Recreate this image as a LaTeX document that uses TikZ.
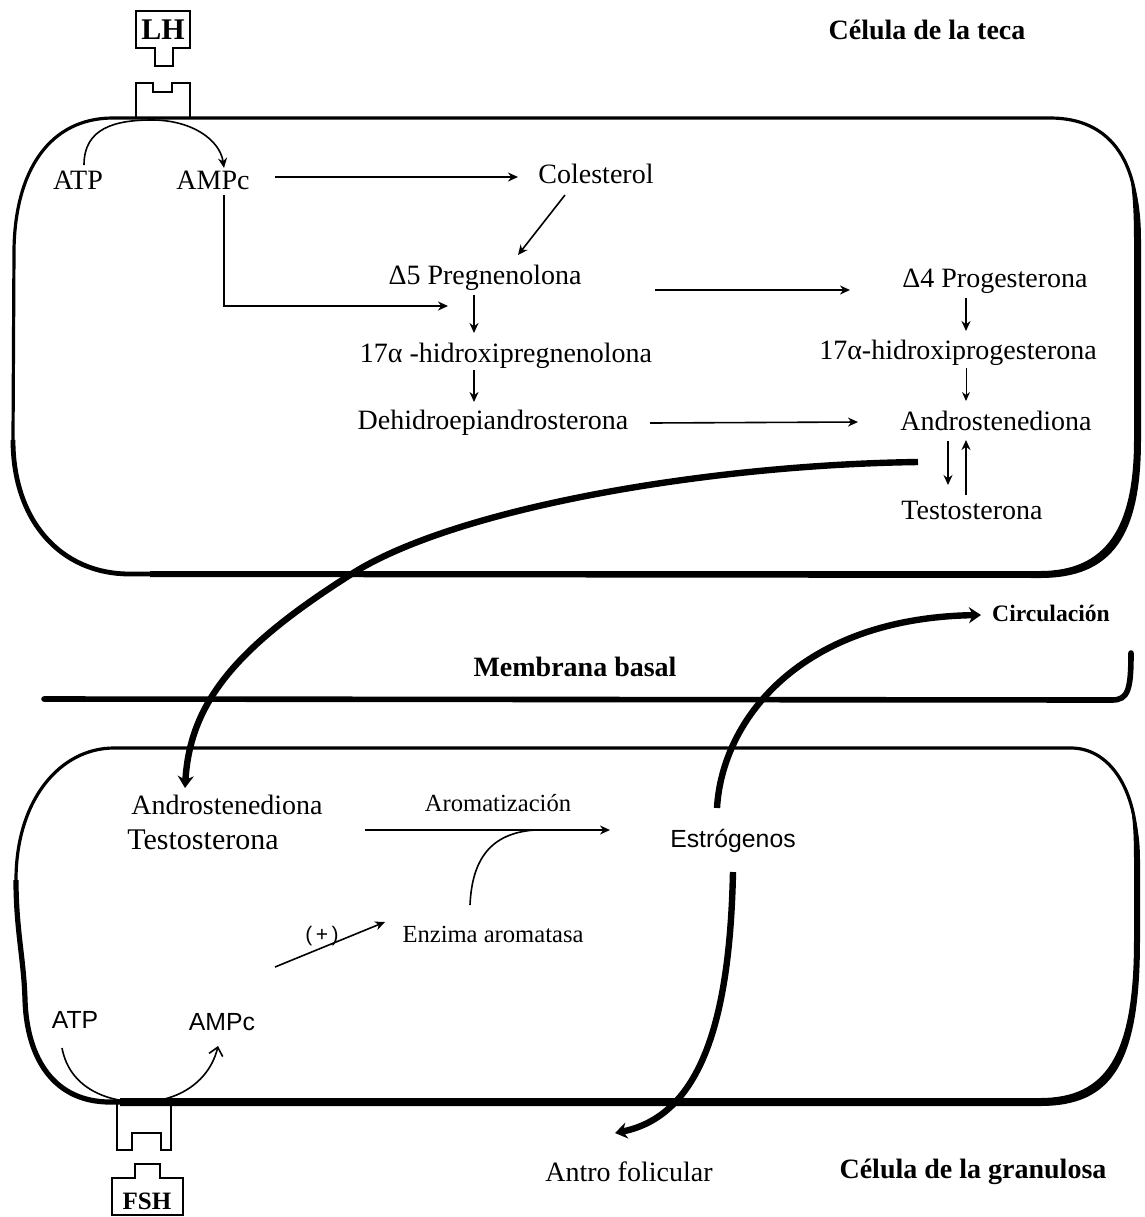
\documentclass[tikz,border=0pt]{standalone}
\usepackage{fontspec}
\setmainfont{Liberation Serif}
\newfontfamily\sansf{Liberation Sans}
\usetikzlibrary{arrows.meta,calc}
\begin{document}
\begin{tikzpicture}[x=0.5pt,y=-0.5pt,
 lbl/.style={font=\fontsize{14}{16}\selectfont, inner sep=0pt},
 blbl/.style={font=\bfseries\fontsize{14}{16}\selectfont, inner sep=0pt},
 slbl/.style={font=\sansf\fontsize{12.4}{14}\selectfont, inner sep=0pt},
 smlbl/.style={font=\fontsize{12.3}{14}\selectfont, inner sep=0pt},
 rx/.style={line width=0.8pt, -{Stealth[length=5pt,width=4.5pt]}},
 thinrx/.style={line width=0.5pt, -{Stealth[length=4.5pt,width=4pt]}},
 flow/.style={line width=3.2pt, -{Stealth[length=6pt,width=8pt]}},
 wall/.style={line width=1.6pt, line join=round},
 recep/.style={line width=1.2pt, line join=miter},
]
\fill[white] (0,0) rectangle (1145,1217);
\useasboundingbox (0,0) rectangle (1145,1217);

% ---- theca cell
\draw[wall] (113,118) -- (1050,118) .. controls (1110,118) and (1138,160) .. (1138,230)
  -- (1138,440) .. controls (1138,530) and (1110,574) .. (1040,574) -- (130,574)
  .. controls (60,574) and (13,520) .. (13,440) -- (14,250)
  .. controls (15,170) and (50,118) .. (113,118) -- cycle;
\fill (1130,175) .. controls (1137,190) and (1141,210) .. (1141,240) -- (1141,440)
  .. controls (1141,536) and (1112,578) .. (1040,578) -- (150,577) -- (150,571)
  -- (1040,571) .. controls (1106,571) and (1134,528) .. (1134,440) -- (1134,240)
  .. controls (1134,215) and (1133,195) .. (1130,175) -- cycle;
\draw[line width=2.4pt] (160,574) -- (130,574) .. controls (60,574) and (13,520) .. (13,440);

% ---- basal membrane
\draw[line width=2.8pt, line cap=round] (44,699) -- (1112,700) .. controls (1128,700) and (1131,690) .. (1131,653);

% ---- granulosa cell
\draw[wall] (114,748) -- (1071,748) .. controls (1110,748) and (1137,790) .. (1137,850)
  -- (1137,940) .. controls (1137,1060) and (1110,1102) .. (1040,1102) -- (110,1102)
  .. controls (55,1102) and (27,1060) .. (25,1000) .. controls (24,960) and (16,930) .. (16,880)
  .. controls (16,800) and (60,748) .. (114,748) -- cycle;
\fill (1130,801) .. controls (1136,818) and (1140,835) .. (1140,860) -- (1140,940)
  .. controls (1140,1064) and (1112,1106) .. (1040,1106) -- (120,1106) -- (120,1098)
  -- (1040,1098) .. controls (1106,1098) and (1134,1056) .. (1134,940) -- (1134,860)
  .. controls (1134,835) and (1133,818) .. (1130,801) -- cycle;
\draw[line width=2.6pt] (140,1102) -- (110,1102) .. controls (55,1102) and (27,1060) .. (25,1000)
  .. controls (24,960) and (16,930) .. (16,880);

% ---- LH and receptor
\draw[recep] (136,48) -- (136,11) -- (190,11) -- (190,48) -- (173,48) -- (173,66) -- (155,66) -- (155,48) -- cycle;
\draw[recep] (136,118) -- (136,83) -- (153,83) -- (153,92) -- (172,92) -- (172,83) -- (190,83) -- (190,118);
% ---- FSH and receptor
\draw[recep] (117,1103) -- (117,1150) -- (132,1150) -- (132,1133) -- (161,1133) -- (161,1150) -- (171,1150) -- (171,1103);
\draw[recep] (112,1215) -- (112,1178) -- (135,1178) -- (135,1164) -- (160,1164) -- (160,1178) -- (183,1178) -- (183,1215) -- cycle;

% ---- labels
\node[blbl] (teca) at (927,30) {Célula de la teca};
\node[font=\bfseries\fontsize{15}{17}\selectfont, inner sep=0pt] (lh) at (163,30) {LH};
\node[lbl] (atpT) at (78,180) {ATP};
\node[lbl] (ampcT) at (213,180) {AMPc};
\node[lbl] (coles) at (596,174) {Colesterol};
\node[lbl] (preg) at (485,278) {Δ5 Pregnenolona};
\node[lbl] (hpreg) at (506,356) {17α -hidroxipregnenolona};
\node[lbl] (dhea) at (493,423) {Dehidroepiandrosterona};
\node[lbl] (prog) at (995,281) {Δ4 Progesterona};
\node[lbl] (hprog) at (958,353) {17α-hidroxiprogesterona};
\node[lbl] (andT) at (996,421) {Androstenediona};
\node[lbl] (testT) at (972,510) {Testosterona};
\node[blbl] (memb) at (575,667) {Membrana basal};
\node[font=\bfseries\fontsize{11.8}{14}\selectfont, inner sep=0pt] (circ) at (1051,613) {Circulación};
\node[lbl] (andB) at (227,805) {Androstenediona};
\node[font=\fontsize{15}{17}\selectfont, inner sep=0pt] (testB) at (203,840) {Testosterona};
\node[smlbl] (arom) at (498,803) {Aromatización};
\node[slbl] (estr) at (733,841) {Estrógenos};
\node[smlbl] (enz) at (493,934) {Enzima aromatasa};
\node[font=\sansf\fontsize{10.5}{12}\selectfont, inner sep=0pt] (plus) at (322,936) {(\,+\,)};
\node[slbl] (atpB) at (75,1020) {ATP};
\node[slbl] (ampcB) at (222,1022) {AMPc};
\node[lbl] (antro) at (629,1172) {Antro folicular};
\node[blbl] (gran) at (973,1172) {Célula de la granulosa};
\node[font=\bfseries\fontsize{12.5}{14}\selectfont, inner sep=0pt] (fsh) at (147,1201) {FSH};

% ---- theca connectors
\draw[rx] ($(atpT)+(6,-15)$) .. controls (84,128) and (115,120) .. (152,120)
  .. controls (192,120) and (220,140) .. ($(ampcT)+(11,-12)$);
\draw[rx] ($(ampcT)+(62,-3)$) -- ($(coles)+(-78,3)$);
\draw[rx] ($(coles)+(-31,21)$) -- ($(preg)+(33,-23)$);
\draw[rx] ($(ampcT)+(11,15)$) |- ($(preg)+(-37,28)$);
\draw[rx] ($(preg)+(-11,17)$) -- ($(hpreg)+(-32,-23)$);
\draw[rx] ($(hpreg)+(-32,14)$) -- ($(dhea)+(-19,-21)$);
\draw[rx] ($(dhea)+(157,0)$) -- ($(andT)+(-138,1)$);
\draw[rx] ($(preg)+(170,12)$) -- ($(prog)+(-145,9)$);
\draw[rx] ($(prog)+(-29,17)$) -- ($(hprog)+(8,-22)$);
\draw[thinrx] ($(hprog)+(8,15)$) -- ($(andT)+(-30,-20)$);
\draw[rx] ($(andT)+(-48,20)$) -- ($(testT)+(-24,-25)$);
\draw[rx] ($(testT)+(-6,-15)$) -- ($(andT)+(-30,19)$);

% ---- transfer to granulosa
\draw[flow] ($(andT)+(-78,41)$) .. controls (700,465) and (450,510) .. (350,575)
  .. controls (240,645) and (190,700) .. ($(andB)+(-42,-17)$);

% ---- granulosa connectors
\coordinate (merge) at (535,830);
\draw[rx] ($(testB)+(162,-10)$) -- ($(estr)+(-123,-11)$);
\draw[line width=0.8pt] ($(enz)+(-23,-29)$) .. controls (472,860) and (490,833) .. (merge);
\draw[rx] ($(ampcB)+(53,-55)$) -- ($(enz)+(-108,-12)$);
\draw[line width=0.8pt, -{Straight Barb[length=4pt,width=7pt]}] ($(atpB)+(-13,28)$) .. controls (70,1090) and (110,1102) .. (140,1102)
  .. controls (180,1102) and (210,1080) .. ($(ampcB)+(-4,24)$);
\draw[flow] ($(estr)+(-16,-33)$) .. controls (722,720) and (800,618) .. ($(circ)+(-70,2)$);
\draw[flow] ($(estr)+(0,31)$) .. controls (730,1010) and (705,1115) .. ($(antro)+(-14,-39)$);
\end{tikzpicture}
\end{document}
